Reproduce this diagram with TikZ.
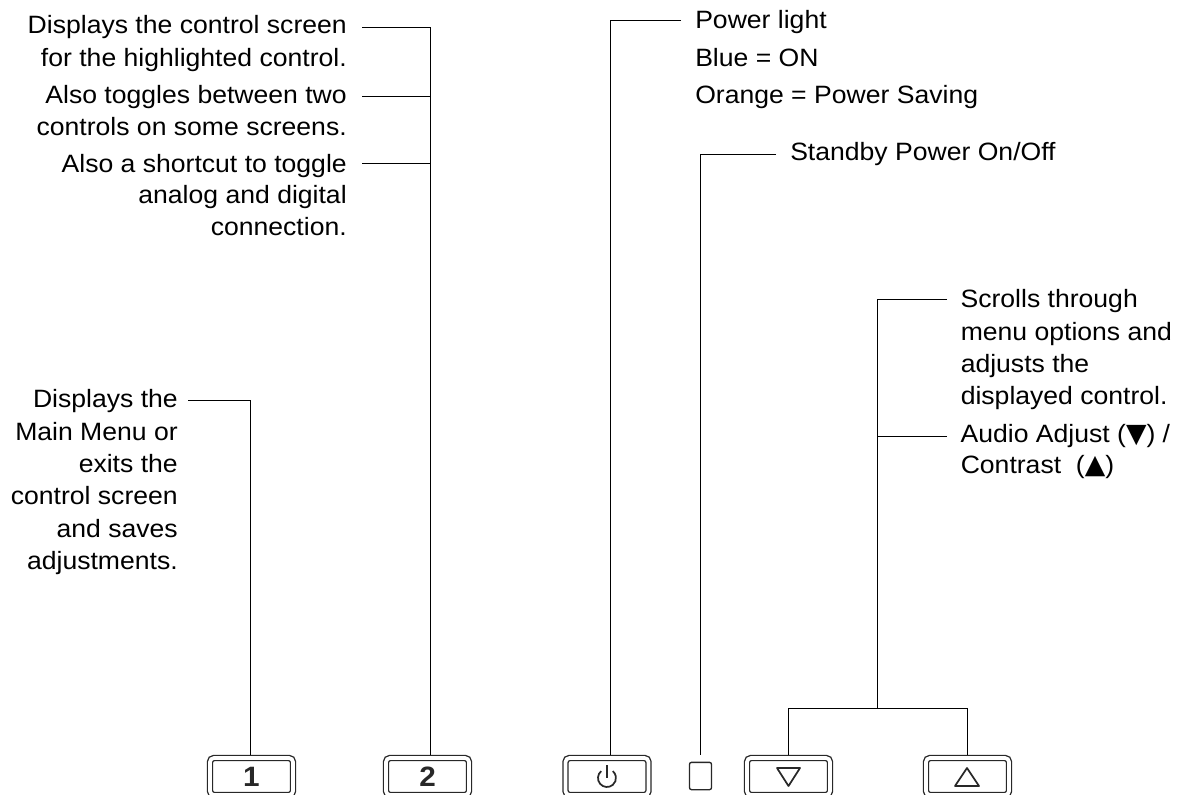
\documentclass[tikz,border=0pt]{standalone}
\usepackage{fontspec}
\setmainfont[FakeStretch=1.06]{Liberation Sans}
\newfontfamily\symfont{DejaVu Sans}
\usepackage{tikz}

\begin{document}
\begin{tikzpicture}[x = 0.75pt, y = -0.75pt,
            lbl/.style = {inner xsep = 0pt, inner ysep = 0pt, text depth = 4.2pt, font = \fontsize{18.8}{24}\selectfont},
            lblL/.style = {lbl, anchor = east},
            lblR/.style = {lbl, anchor = west},
            restL/.style = {inner sep = 0pt, anchor = base east, font = \fontsize{18.8}{24}\selectfont},
            restR/.style = {inner sep = 0pt, anchor = base west, font = \fontsize{18.8}{24}\selectfont},
            btn/.style = {draw = btnColor, double = white, double distance = 2.8pt, line width = 1pt, rounded corners = 3pt, minimum width = 62.25pt, minimum height = 27.75pt, inner sep = 0pt, font = \fontsize{21}{24}\selectfont\bfseries, text = btnColor},
            icon/.style = {draw = btnColor, line width = 1.3pt},
            wire/.style = {draw = black, line width = 0.75pt}]

            \definecolor{btnColor}{RGB}{40,40,40};

            \clip (0,0) rectangle (1186,794);

            % buttons along the bottom edge
            \node [btn] (btnOne) at (251.5,776.5) {1};
            \node [btn] (btnTwo) at (427.5,776.5) {2};
            \node [btn] (btnPower) at (607,776.5) {};
            \node [btn] (btnDown) at (788.5,776.5) {};
            \node [btn] (btnUp) at (967.5,776.5) {};
            \node [draw = btnColor, line width = 1pt, rounded corners = 1.5pt, minimum width = 16.5pt, minimum height = 20.5pt, inner sep = 0pt] (lightBox) at (700.5,776) {};

            \draw [icon, line join = round] (777,768) -- (800,768) -- (788.5,786) -- cycle;
            \draw [icon, line join = round] (955,786) -- (979,786) -- (967,768) -- cycle;
            \draw [icon] (601.2,771.1) arc (130:410:6.75pt);
            \draw [icon] (607,765) -- (607,778);

            % labels on the left
            \node [lblL, text height = 13.65pt, inner xsep = 11.25pt] (dispA) at (362,27) {Displays the control screen};
            \node [restL] (dispB) at (347,66) {for the highlighted control.};
            \node [lblL, text height = 14.7pt, inner xsep = 11.25pt] (togA) at (362,96) {Also toggles between two};
            \node [restL] (togB) at (347,135) {controls on some screens.};
            \node [lblL, text height = 18.3pt, inner xsep = 11.25pt] (cutA) at (362,163) {Also a shortcut to toggle};
            \node [restL] (cutB) at (347,203) {analog and digital};
            \node [restL] (cutC) at (347,235) {connection.};

            \node [lblL, text height = 15.3pt, inner xsep = 7.5pt] (menuA) at (188,400) {Displays the};
            \node [restL] (menuB) at (178,440) {Main Menu or};
            \node [restL] (menuC) at (178,472) {exits the};
            \node [restL] (menuD) at (178,504) {control screen};
            \node [restL] (menuE) at (178,537) {and saves};
            \node [restL] (menuF) at (178,569) {adjustments.};

            % labels on the right
            \node [lblR, text height = 16.2pt, inner xsep = 10.5pt] (powA) at (681,20) {Power light};
            \node [restR] (powB) at (695,66) {Blue = ON};
            \node [restR] (powC) at (695,103) {Orange = Power Saving};
            \node [lblR, text height = 13.2pt, inner xsep = 10.5pt] (stby) at (776,154) {Standby Power On/Off};

            \node [lblR, text height = 17.25pt, inner xsep = 10pt] (scrA) at (947,299) {Scrolls through};
            \node [restR] (scrB) at (960.5,340) {menu options and};
            \node [restR] (scrC) at (960.5,372) {adjusts the};
            \node [restR] (scrD) at (960.5,404) {displayed control.};
            \node [lblR, text height = 13.2pt, inner xsep = 10pt] (audA) at (947,436) {Audio Adjust ({\symfont\fontsize{20}{20}\selectfont ▼}) /};
            \node [restR] (audB) at (960.5,473) {Contrast\ \ ({\symfont\fontsize{20}{20}\selectfont ▲})};

            % connectors
            \coordinate (twoTop) at (430,755);
            \coordinate (oneTop) at (250,755);
            \coordinate (powTop) at (610,755);
            \coordinate (lightTop) at (700,755);
            \coordinate (downTop) at (788,755);
            \coordinate (upTop) at (967,755);
            \coordinate (joinLow) at (877,708);

            \draw [wire] (dispA.east) -| (twoTop);
            \draw [wire] (togA.east) -- (togA.east -| twoTop);
            \draw [wire] (cutA.east) -- (cutA.east -| twoTop);
            \draw [wire] (menuA.east) -| (oneTop);
            \draw [wire] (powA.west) -| (powTop);
            \draw [wire] (stby.west) -| (lightTop);
            \draw [wire] (scrA.west) -| (joinLow);
            \draw [wire] (audA.west) -- (audA.west -| joinLow);
            \draw [wire] (downTop) |- (joinLow) -| (upTop);

\end{tikzpicture}
\end{document}
